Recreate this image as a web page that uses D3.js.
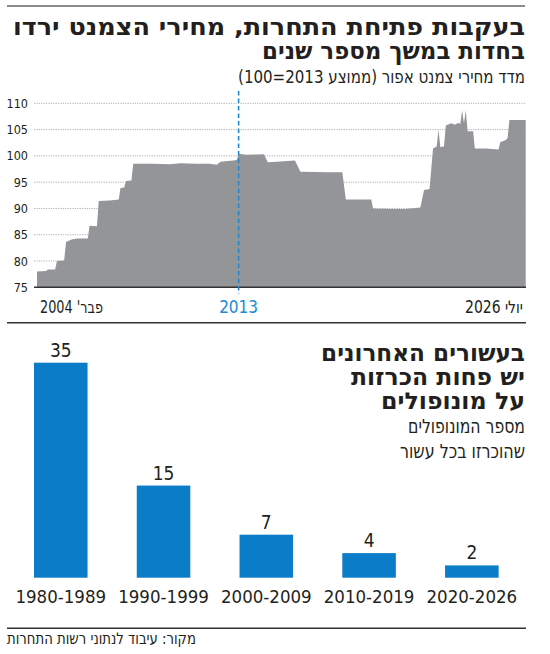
<!DOCTYPE html>
<html lang="he">
<head>
    <meta charset="UTF-8">
    <title>מחירי הצמנט ומונופולים</title>
    <script src="https://d3js.org/d3.v7.min.js"></script>
    <style>
        body { margin: 0; background: #fff; }
        svg { display: block; }
        .narrow { font-family: 'Liberation Sans Narrow', 'DejaVu Sans Condensed', sans-serif; fill: #231f20; }
        .heb { font-family: 'DejaVu Sans Condensed', sans-serif; fill: #231f20; }
        .heavy { font-family: 'DejaVu Sans Condensed', 'DejaVu Sans', sans-serif; font-weight: bold; fill: #231f20; }
        .rtl { direction: rtl; unicode-bidi: embed; }
    </style>
</head>
<body>
<svg id="chart" width="550" height="654"></svg>
<script>
// cement price index, month -> value (2013 average = 100)
var months = ["2004-02","2004-07","2004-08","2004-12","2005-01","2005-05","2005-06","2005-09","2005-12",
    "2006-06","2006-07","2006-11","2006-12","2007-06","2007-11","2007-12","2008-02","2008-03","2008-06",
    "2008-07","2009-06","2010-03","2010-09","2011-06","2012-01","2012-05","2012-07","2013-02","2013-04",
    "2013-05","2013-09","2014-07","2014-09","2015-02","2015-12","2016-03","2017-06","2018-02","2018-04",
    "2019-06","2019-07","2020-06","2021-01","2021-09","2021-11","2022-02","2022-04","2022-06","2022-07",
    "2022-08","2022-10","2022-11","2023-02","2023-04","2023-06","2023-07","2023-08","2023-09","2023-10",
    "2023-11","2024-02","2024-03","2024-09","2025-04","2025-05","2025-08","2025-09","2025-10","2026-07"];
var priceIndex = [78.0,78.1,78.4,78.4,80.0,80.1,83.6,84.1,84.3,
    84.3,86.7,86.6,91.4,91.5,91.7,93.9,94.0,95.2,95.3,
    98.5,98.5,98.4,98.6,98.5,98.5,98.3,98.9,99.1,99.2,
    100.4,100.2,100.3,98.8,98.9,99.1,97.0,96.9,96.9,91.7,
    91.7,90.0,89.9,89.9,90.2,93.5,93.7,101.4,101.8,105.0,
    101.7,101.8,105.8,106.2,105.9,106.3,106.0,108.7,106.2,108.7,
    104.7,104.7,101.4,101.4,101.2,102.6,103.0,103.4,106.8,106.8];
var yTicks = [75, 80, 85, 90, 95, 100, 105, 110];
var markerMonth = "2013-05";

// monopolies declared per decade
var decades = ["1980-1989", "1990-1999", "2000-2009", "2010-2019", "2020-2026"];
var monopolies = [35, 15, 7, 4, 2];

var svg = d3.select("#chart");
var parseMonth = d3.timeParse("%Y-%m");
var priceData = months.map((m, i) => ({ date: parseMonth(m), value: priceIndex[i] }));

// helper for right-to-left text lines
function rtlText(x, y, txt, cls, size, len, anchor) {
    var t = svg.append("text")
        .attr("class", cls + " rtl")
        .attr("x", x).attr("y", y)
        .attr("font-size", size)
        .attr("text-anchor", anchor || "start")
        .text(txt);
    if (len) t.attr("textLength", len).attr("lengthAdjust", "spacingAndGlyphs");
    return t;
}

// ---------- top section ----------
svg.append("line").attr("x1", 7).attr("x2", 525).attr("y1", 6).attr("y2", 6)
    .attr("stroke", "#8c8c8c").attr("stroke-width", 2);

rtlText(525, 35, "בעקבות פתיחת התחרות, מחירי הצמנט ירדו", "heavy", 23, 512);
rtlText(525, 59, "בחדות במשך מספר שנים", "heavy", 23, 263);
rtlText(525, 83, "מדד מחירי צמנט אפור (ממוצע 2013=100)", "heb", 18, 287);

var x = d3.scaleTime()
    .domain(d3.extent(priceData, d => d.date))
    .range([37, 525.7]);

var y = d3.scaleLinear()
    .domain([75, 110])
    .range([287.3, 103.3]);

var area = d3.area()
    .x(d => x(d.date))
    .y0(y(75))
    .y1(d => y(d.value));

svg.append("path")
    .datum(priceData)
    .attr("fill", "#949599")
    .attr("d", area);

// dotted gridlines drawn over the area
svg.append("g")
    .selectAll("line")
    .data(yTicks.slice(1))
    .enter().append("line")
    .attr("x1", 34).attr("x2", 525.7)
    .attr("y1", d => y(d)).attr("y2", d => y(d))
    .attr("stroke", "#9a9a9a")
    .attr("stroke-width", 0.8)
    .attr("stroke-dasharray", "1.2,1.2");

// y axis labels
var yAxis = svg.append("g")
    .attr("transform", "translate(28,0)")
    .call(d3.axisLeft(y).tickValues(yTicks).tickSize(0).tickPadding(0));
yAxis.select(".domain").remove();
yAxis.selectAll("text")
    .attr("font-family", "'Liberation Sans Narrow','DejaVu Sans Condensed',sans-serif")
    .attr("font-size", 12.5)
    .attr("fill", "#231f20");

// base line
svg.append("line")
    .attr("x1", 34).attr("x2", 526)
    .attr("y1", y(75)).attr("y2", y(75))
    .attr("stroke", "#333").attr("stroke-width", 1.5);

// 2013 marker
var mx = x(parseMonth(markerMonth));
svg.append("line")
    .attr("x1", mx).attr("x2", mx)
    .attr("y1", 91).attr("y2", 294)
    .attr("stroke", "#1b8ad3")
    .attr("stroke-width", 1.6)
    .attr("stroke-dasharray", "4.5,3");

svg.append("text")
    .attr("class", "narrow")
    .attr("x", mx).attr("y", 312.5)
    .attr("text-anchor", "middle")
    .attr("font-size", 17)
    .style("fill", "#1b8ad3")
    .text("2013");

rtlText(40, 312.5, "פבר' 2004", "narrow", 17, 63, "end");
rtlText(523, 312.5, "יולי 2026", "narrow", 17, 58, "start");

// separator
svg.append("line").attr("x1", 7).attr("x2", 526).attr("y1", 322.7).attr("y2", 322.7)
    .attr("stroke", "#333").attr("stroke-width", 1.5);

// ---------- bottom section ----------
rtlText(525, 361, "בעשורים האחרונים", "heavy", 23, 204);
rtlText(525, 385, "יש פחות הכרזות", "heavy", 23, 174);
rtlText(525, 409, "על  מונופולים", "heavy", 23, 144);
rtlText(525, 433, "מספר המונופולים", "heb", 19.5, 117);
rtlText(525, 458, "שהוכרזו בכל עשור", "heb", 19.5, 125);

var xb = d3.scaleBand()
    .domain(decades)
    .range([8.3, 524.3])
    .paddingInner(0.479)
    .paddingOuter(0.25);

var yb = d3.scaleLinear()
    .domain([0, 35])
    .range([577.7, 362.7]);

var bars = decades.map((d, i) => ({ decade: d, count: monopolies[i] }));

svg.selectAll(".bar")
    .data(bars)
    .enter().append("rect")
    .attr("class", "bar")
    .attr("x", d => xb(d.decade))
    .attr("y", d => yb(d.count))
    .attr("width", xb.bandwidth())
    .attr("height", d => yb(0) - yb(d.count))
    .attr("fill", "#0b7cc8");

svg.selectAll(".val")
    .data(bars)
    .enter().append("text")
    .attr("class", "narrow val")
    .attr("x", d => xb(d.decade) + xb.bandwidth() / 2)
    .attr("y", d => yb(d.count) - 6)
    .attr("text-anchor", "middle")
    .attr("font-size", 19)
    .text(d => d.count);

var xAxisB = svg.append("g")
    .attr("transform", "translate(0," + yb(0) + ")")
    .call(d3.axisBottom(xb).tickSize(0).tickPadding(0));
xAxisB.select(".domain").remove();
xAxisB.selectAll("text")
    .attr("font-family", "'Liberation Sans Narrow','DejaVu Sans Condensed',sans-serif")
    .attr("font-size", 18.5)
    .attr("fill", "#231f20")
    .attr("dy", 0)
    .attr("y", 25);

// footer
svg.append("line").attr("x1", 7).attr("x2", 526).attr("y1", 628.3).attr("y2", 628.3)
    .attr("stroke", "#333").attr("stroke-width", 1.5);
rtlText(7, 644, "מקור: עיבוד לנתוני רשות התחרות", "heb", 16, 189, "end");
</script>
</body>
</html>
